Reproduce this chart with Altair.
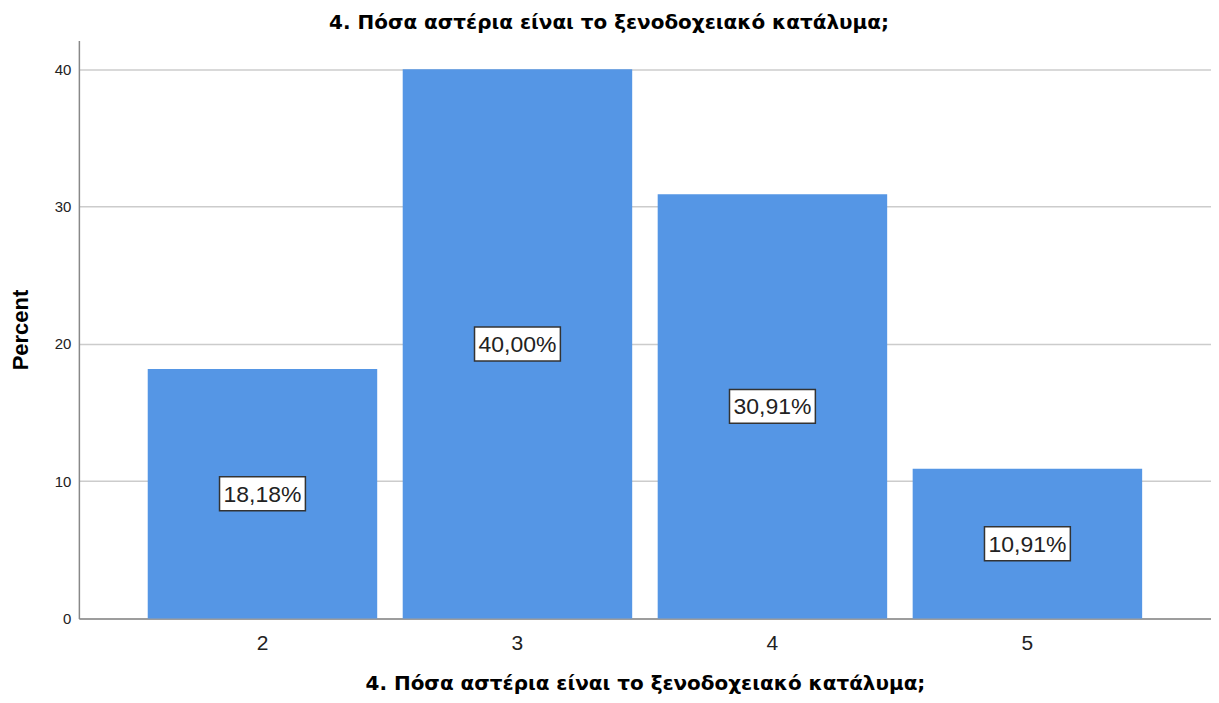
import altair as alt
import pandas as pd

categories = ["2", "3", "4", "5"]
percents = [18.18, 40.00, 30.91, 10.91]
labels = ["18,18%", "40,00%", "30,91%", "10,91%"]

title_text = "4. Πόσα αστέρια είναι το ξενοδοχειακό κατάλυμα;"

df = pd.DataFrame({"cat": categories, "pct": percents, "label": labels})
df["half"] = df["pct"] / 2

FONT = "Liberation Sans"
TFONT = "DejaVu Sans"
BAR = "#5596E5"

x_enc = alt.X(
    "cat:N",
    sort=categories,
    scale=alt.Scale(paddingInner=0.1, paddingOuter=0.27),
    axis=alt.Axis(
        title=title_text,
        labelAngle=0,
        labelFontSize=21,
        labelColor="#222222",
        labelFont=FONT,
        labelPadding=14,
        ticks=False,
        domainColor="#888888",
        domainWidth=1.5,
        titleFont=TFONT,
        titleFontSize=20,
        titleFontWeight="bold",
        titleColor="#000000",
        titlePadding=20,
        grid=False,
    ),
)

y_scale = alt.Scale(domain=[0, 42.1], nice=False)

bars = alt.Chart(df).mark_bar(color=BAR).encode(
    x=x_enc,
    y=alt.Y(
        "pct:Q",
        scale=y_scale,
        axis=alt.Axis(
            title="Percent",
            values=[0, 10, 20, 30, 40],
            labelFontSize=15,
            labelFont=FONT,
            labelColor="#222222",
            labelPadding=8,
            ticks=False,
            domainColor="#888888",
            domainWidth=1.5,
            gridColor="#cccccc",
            gridWidth=1.5,
            titleFont=FONT,
            titleFontSize=22,
            titleFontWeight="bold",
            titleColor="#000000",
            titlePadding=22,
        ),
    ),
)

boxes = alt.Chart(df).mark_bar(
    width=86, color="white", stroke="#333333", strokeWidth=1.5,
    yOffset=17, y2Offset=-17,
).encode(
    x=alt.X("cat:N", sort=categories),
    y=alt.Y("half:Q", scale=y_scale),
    y2="half:Q",
)

texts = alt.Chart(df).mark_text(
    font=FONT, fontSize=23, color="#222222", baseline="middle", align="center", dy=1,
).encode(
    x=alt.X("cat:N", sort=categories),
    y=alt.Y("half:Q", scale=y_scale),
    text="label:N",
)

chart = (
    alt.layer(bars, boxes, texts)
    .properties(
        width=1134,
        height=579,
        autosize=alt.AutoSizeParams(type="none"),
        padding={"left": 71, "top": 32, "right": 0, "bottom": 76},
        title=alt.TitleParams(
            text=title_text,
            font=TFONT,
            fontSize=20,
            fontWeight="bold",
            color="#000000",
            anchor="middle",
            dx=-36,
            offset=8,
        ),
    )
    .configure_view(stroke=None)
)

chart.save("out.html", embed_options={"renderer": "svg", "actions": False})
